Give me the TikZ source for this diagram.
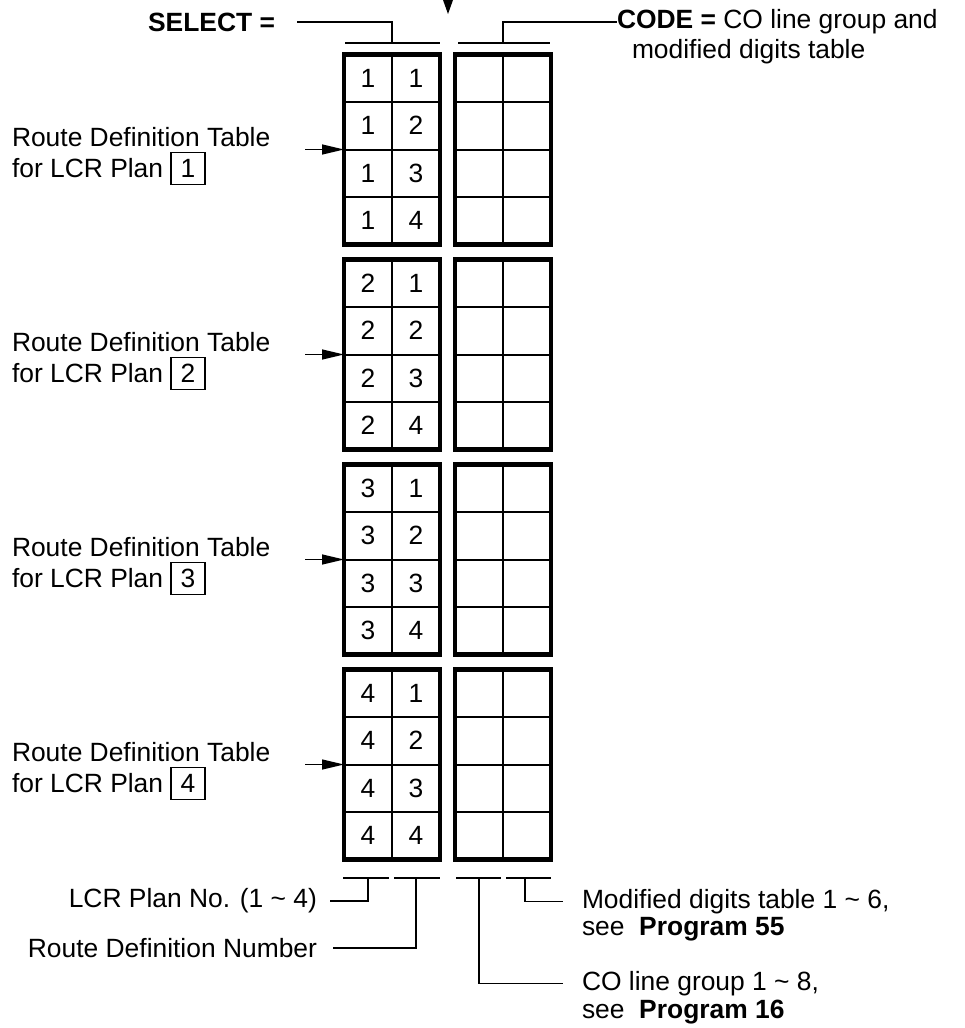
\documentclass[tikz,border=0pt]{standalone}
\usepackage{fontspec}
\setmainfont{Liberation Sans}
\usetikzlibrary{arrows.meta,positioning}

\newcommand{\planbox}[1]{{\setlength{\fboxsep}{3pt}\setlength{\fboxrule}{0.6pt}\fbox{\hspace{1.5pt}#1\hspace{1.5pt}}}}

\begin{document}
\begin{tikzpicture}[
		x=0.5pt, y=-0.5pt,
		every node/.style={inner sep=0pt, outer sep=0pt, font=\fontsize{13.2}{15}\selectfont},
		cell/.style={draw, line width=1pt, minimum width=24pt, minimum height=23.75pt},
		blockline/.style={line width=2.4pt},
		conn/.style={line width=0.65pt},
		arrow/.style={-{Triangle[length=11pt,width=5pt]}, line width=0.65pt},
		txt/.style={anchor=base west}
		]
		\useasboundingbox (0,0) rectangle (964,1028);
		
		% the four route definition tables
		\foreach \k in {1,...,4} {
			\foreach \r in {1,...,4} {
				\pgfmathsetmacro{\cy}{54.5+205*(\k-1)+47.5*(\r-0.5)}
				\node[cell] (sel-\k-\r-a) at (368,\cy) {\k};
				\node[cell] (sel-\k-\r-b) at (416,\cy) {\r};
				\node[cell] (code-\k-\r-a) at (479,\cy) {};
				\node[cell] (code-\k-\r-b) at (527,\cy) {};
			}
			\draw[blockline] (sel-\k-1-a.north west) rectangle (sel-\k-4-b.south east);
			\draw[blockline] (code-\k-1-a.north west) rectangle (code-\k-4-b.south east);
			
			\pgfmathsetmacro{\ay}{54.5+205*(\k-1)+95}
			\node[txt] (rdt-\k) at (12,\ay-3) {Route Definition Table};
			\node[txt] (plan-\k) at (12,\ay+28) {for LCR Plan \planbox{\k}};
			\coordinate (arr-\k) at (305,\ay);
			\draw[arrow] (arr-\k) -- (sel-\k-2-a.south west);
		}
		
		% top
		\fill (443,0) -- (453,0) -- (448,14) -- cycle;
		\node[anchor=east] (selectlbl) at (275,22) {\textbf{SELECT =}};
		\coordinate (selTop) at (392,43);
		\draw[conn] (345,43) -- (440,43);
		\draw[conn] ([xshift=11pt]selectlbl.east) -| (selTop);
		
		\node[anchor=west] (codelbl) at (617,22) {\textbf{CODE =} CO line group and};
		\node[txt] (codelbl2) at (632,58) {modified digits table};
		\coordinate (codeTop) at (503,43);
		\draw[conn] (458,43) -- (550,43);
		\draw[conn] (codeTop) |- (codelbl.west);
		
		% bottom
		\draw[conn] (343,878) -- (389,878);
		\draw[conn] (394,878) -- (440,878);
		\draw[conn] (456,878) -- (501,878);
		\draw[conn] (506,878) -- (551,878);
		\coordinate (tickLcr) at (368,878);
		\coordinate (tickRdn) at (416,878);
		\coordinate (tickCo) at (479,878);
		\coordinate (tickMod) at (525,878);
		
		\node[anchor=east] (lcrlbl) at (317,901) {LCR Plan No. (1 \textasciitilde{} 4)};
		\draw[conn] ([xshift=6.5pt]lcrlbl.east) -| (tickLcr);
		\node[anchor=east] (rdnlbl) at (317,948) {Route Definition Number};
		\draw[conn] ([xshift=8pt]rdnlbl.east) -| (tickRdn);
		
		\node[txt] (modlbl) at (582,908) {Modified digits table 1 \textasciitilde{} 6,};
		\node[txt] (modlbl2) at (582,935) {see\ \ \textbf{Program 55}};
		\draw[conn] (tickMod) |- ([xshift=-9.5pt]modlbl.west);
		\node[txt] (colbl) at (582,990) {CO line group 1 \textasciitilde{} 8,};
		\node[txt] (colbl2) at (582,1018) {see\ \ \textbf{Program 16}};
		\draw[conn] (tickCo) |- ([xshift=-9.5pt]colbl.west);
		
	\end{tikzpicture}
\end{document}
